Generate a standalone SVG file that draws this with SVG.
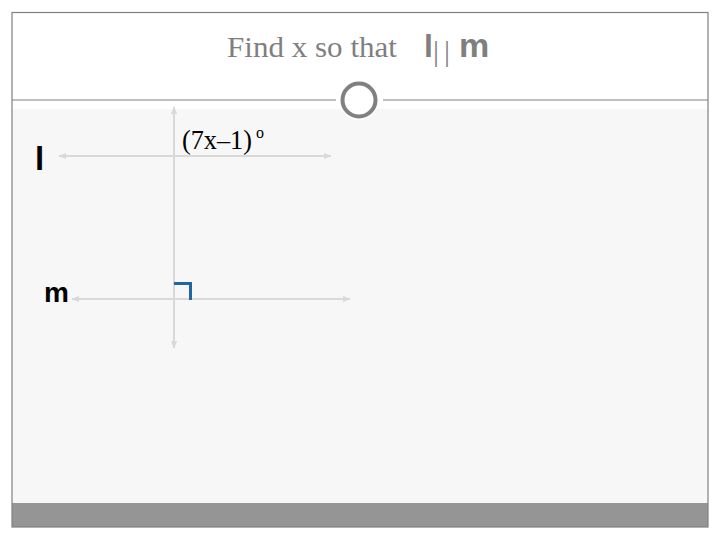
<svg xmlns="http://www.w3.org/2000/svg" width="720" height="540" viewBox="0 0 720 540">
<defs>
<style>
.ln{stroke:#d9d9d9;stroke-width:2;fill:none}
.ser{font-family:"Liberation Serif","DejaVu Serif",serif}
.san{font-family:"Liberation Sans","DejaVu Sans",sans-serif;font-weight:bold}
</style>
<marker id="ah" viewBox="0 0 10 10" refX="9" refY="5" markerWidth="4" markerHeight="4" orient="auto-start-reverse">
<path d="M0,1 L10,5 L0,9 Z" fill="#d9d9d9"/>
</marker>
</defs>
<rect x="0" y="0" width="720" height="540" fill="#ffffff"/>
<g id="frame">
<rect x="12" y="100" width="696" height="404" fill="#f7f7f7"/>
<rect x="12" y="100" width="696" height="9" fill="#ffffff"/>
<rect x="12" y="503" width="696" height="24" fill="#959595"/>
<rect x="12" y="12.5" width="696" height="514.5" fill="none" stroke="#808080" stroke-width="1.2"/>
<line x1="12" y1="100" x2="336" y2="100" stroke="#808080" stroke-width="1.2"/>
<line x1="383" y1="100" x2="708" y2="100" stroke="#808080" stroke-width="1.2"/>
<circle cx="359" cy="100" r="20" fill="#ffffff"/>
<circle cx="359" cy="100" r="16.5" fill="#ffffff" stroke="#808080" stroke-width="4"/>
</g>
<g id="title">
<text x="227" y="57" class="ser" font-size="29" fill="#7f7f7f" textLength="170" lengthAdjust="spacingAndGlyphs">Find x so that</text>
<text x="424" y="57" class="san" font-size="32" fill="#7f7f7f">l</text>
<text x="433" y="61" class="ser" font-size="30" fill="#7f7f7f" letter-spacing="5">||</text>
<text x="459" y="57" class="san" font-size="34" fill="#7f7f7f">m</text>
</g>
<g id="connectors">
<line class="ln" x1="174" y1="107" x2="174" y2="348" marker-start="url(#ah)" marker-end="url(#ah)"/>
<line class="ln" x1="59" y1="156" x2="331" y2="156" marker-start="url(#ah)" marker-end="url(#ah)"/>
<line class="ln" x1="72" y1="299" x2="350" y2="299" marker-start="url(#ah)" marker-end="url(#ah)"/>
</g>
<g id="angle">
<path d="M174,283.5 H190.5 V300" fill="none" stroke="#1f66a3" stroke-width="3"/>
<text x="182" y="149" class="ser" font-size="28" fill="#000" textLength="70" lengthAdjust="spacingAndGlyphs">(7x–1)</text>
<text x="256" y="138" class="ser" font-size="16" fill="#000">o</text>
</g>
<g id="line-l"><text x="35" y="170" class="san" font-size="33" fill="#000">l</text></g>
<g id="line-m"><text x="44" y="302" class="san" font-size="28" fill="#000">m</text></g>
</svg>
